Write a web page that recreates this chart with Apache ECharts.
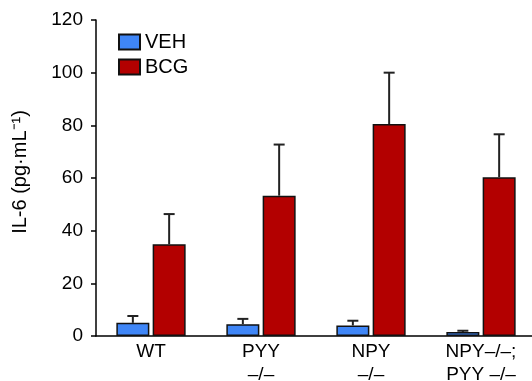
<!DOCTYPE html>
<html lang="en">
<head>
  <meta charset="UTF-8" />
  <title>IL-6</title>
  <style>
    * { padding: 0; margin: 0; }
    html, body { width: 100%; height: 100%; background: #fff; }
    #chart { width: 532px; height: 381px; }
  </style>
</head>
<body>
  <div id="chart"></div>
  <script src="https://cdn.jsdelivr.net/npm/echarts@6/dist/echarts.min.js"></script>
  <script>
    var categories = ['WT', 'PYY\n–/–', 'NPY\n–/–', 'NPY–/–;\nPYY –/–']
    var vehMean = [5, 4.5, 4, 1.5]
    var vehErr = [2.6, 2, 1.8, 0.5]
    var bcgMean = [34.8, 53.3, 80.5, 60.3]
    var bcgErr = [11.5, 19.4, 19.5, 16.3]

    var blue = '#3f86f7'
    var red = '#b30000'
    var font = 'Liberation Sans, Arial, sans-serif'

    // error bar drawn above a bar, side = -1 for VEH, +1 for BCG
    function errorSeries(means, errs, side) {
      return {
        type: 'custom',
        z: 5,
        silent: true,
        data: means.map(function (m, i) { return [i, m, m + errs[i]] }),
        renderItem: function (params, api) {
          var band = api.size([1, 0])[0]
          var bw = band * 0.3
          var off = side * (bw + bw * 0.1) / 2
          var base = api.coord([api.value(0), api.value(1)])
          var top = api.coord([api.value(0), api.value(2)])
          var x = base[0] + off
          return {
            type: 'group',
            children: [
              { type: 'line', shape: { x1: x, y1: base[1], x2: x, y2: top[1] }, style: { stroke: '#222', lineWidth: 2 } },
              { type: 'line', shape: { x1: x - 5.5, y1: top[1], x2: x + 5.5, y2: top[1] }, style: { stroke: '#222', lineWidth: 2 } }
            ]
          }
        }
      }
    }

    var myChart = echarts.init(document.getElementById('chart'))
    var option = {
      animation: false,
      legend: {
        orient: 'vertical',
        left: 113,
        top: 27,
        icon: 'rect',
        itemWidth: 21,
        itemHeight: 15,
        itemGap: 5,
        data: ['VEH', 'BCG'],
        textStyle: { fontFamily: font, fontSize: 20, color: '#000' }
      },
      grid: { left: 96, right: -4, top: 20, bottom: 45, outerBoundsMode: 'none' },
      xAxis: {
        type: 'category',
        data: categories,
        axisLine: { lineStyle: { color: '#000', width: 1.5 } },
        axisTick: { show: false },
        axisLabel: { fontFamily: font, fontSize: 19, color: '#000', lineHeight: 23, margin: 4 }
      },
      yAxis: {
        type: 'value',
        min: 0,
        max: 120,
        interval: 20,
        name: 'IL-6 (pg·mL⁻¹)',
        nameLocation: 'middle',
        nameGap: 66,
        nameTextStyle: { fontFamily: font, fontSize: 20, color: '#000', padding: [0, 0, 0, 12] },
        splitLine: { show: false },
        axisLine: { show: true, lineStyle: { color: '#000', width: 1.5 } },
        axisTick: { show: true, length: 5, lineStyle: { color: '#000', width: 1.5 } },
        axisLabel: { fontFamily: font, fontSize: 19, color: '#000', margin: 13 }
      },
      series: [
        {
          name: 'VEH',
          type: 'bar',
          data: vehMean,
          barWidth: '30%',
          barGap: '10%',
          itemStyle: { color: blue, borderColor: '#111', borderWidth: 1.5 }
        },
        {
          name: 'BCG',
          type: 'bar',
          data: bcgMean,
          barWidth: '30%',
          barGap: '10%',
          itemStyle: { color: red, borderColor: '#111', borderWidth: 1.5 }
        },
        errorSeries(vehMean, vehErr, -1),
        errorSeries(bcgMean, bcgErr, 1)
      ]
    }
    myChart.setOption(option)
  </script>
</body>
</html>
